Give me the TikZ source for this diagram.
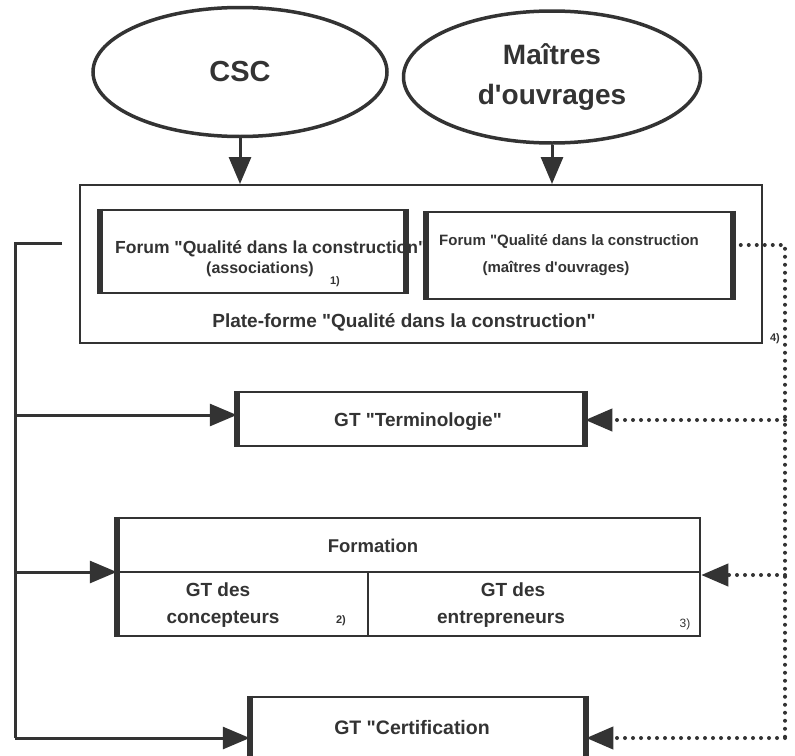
\documentclass[tikz,border=0pt]{standalone}
\usepackage{fontspec}
\setmainfont{Liberation Sans}
\usetikzlibrary{arrows.meta,shapes.geometric}
\definecolor{ink}{gray}{0.2}
\newcommand{\qdbl}{\textquotedbl}

\begin{document}
\begin{tikzpicture}
[x=1pt,y=-1pt,
  actordecorate/.style={shape=ellipse,draw=ink,line width=3.5pt,inner sep=0pt,text=ink},
  boxdecorate/.style={shape=rectangle,draw=ink,line width=2.5pt,inner sep=0pt},
  sidedecorate/.style={draw=ink,line width=6pt},
  textdecorate/.style={text=ink,inner sep=0pt,anchor=base},
  arrowdecorate/.style={draw=ink,fill=ink,line width=3pt,-{Triangle[length=27pt,width=22pt]}},
  dotdecorate/.style={draw=ink,line width=4pt,line cap=round,dash pattern=on 0pt off 8pt},
  dotarrowdecorate/.style={dotdecorate,-{Triangle[length=27pt,width=22pt,fill=ink]}}]
\useasboundingbox[fill=white] (0,0) rectangle (795,755);

%% actors
\node (csc) [actordecorate,minimum width=294pt,minimum height=129pt,
  font=\bfseries\fontsize{29}{29}\selectfont] at (240,72) {CSC};
\node (moa) [actordecorate,minimum width=297pt,minimum height=132pt,align=center,
  font=\bfseries\fontsize{28}{40}\selectfont] at (552,77)
  {Maîtres\\d\textquotesingle ouvrages};

%% platform and forums
\node (platform) [boxdecorate,line width=2pt,minimum width=682pt,minimum height=158pt] at (421,264) {};
\node (forum1) [boxdecorate,minimum width=304pt,minimum height=83pt] at (253,251.5) {};
\node (forum2) [boxdecorate,minimum width=304pt,minimum height=87pt] at (579.5,255.5) {};
\node (forum1a) [textdecorate,anchor=base west,font=\bfseries\fontsize{17.5}{17.5}\selectfont]
  at (115,253) {Forum \qdbl Qualité dans la construction\qdbl};
\node (forum1b) [textdecorate,font=\bfseries\fontsize{16}{16}\selectfont] at (260,273) {(associations)};
\node (forum1n) [textdecorate,font=\bfseries\fontsize{11}{11}\selectfont] at (335,284) {1)};
\node (forum2a) [textdecorate,font=\bfseries\fontsize{15}{15}\selectfont]
  at (569,245) {Forum \qdbl Qualité dans la construction};
\node (forum2b) [textdecorate,font=\bfseries\fontsize{15}{15}\selectfont]
  at (556,272) {(maîtres d\textquotesingle ouvrages)};
\node (platformtext) [textdecorate,font=\bfseries\fontsize{19}{19}\selectfont]
  at (404,327) {Plate-forme \qdbl Qualité dans la construction\qdbl};
\node (platformn) [textdecorate,font=\bfseries\fontsize{11}{11}\selectfont] at (775,341) {4)};

%% working groups
\node (termin) [boxdecorate,minimum width=346pt,minimum height=54pt] at (411,419) {};
\node (termintext) [textdecorate,font=\bfseries\fontsize{19}{19}\selectfont]
  at (418,426) {GT \qdbl Terminologie\qdbl};
\node (formation) [boxdecorate,minimum width=582pt,minimum height=118pt] at (409,577) {};
\draw[ink,line width=2.5pt] (formation.west |- 0,572) -- (formation.east |- 0,572);
\draw[ink,line width=2pt] (368,572) -- (formation.south -| 368,0);
\node (formtext) [textdecorate,font=\bfseries\fontsize{18.5}{18.5}\selectfont] at (373,552) {Formation};
\foreach \nodename/\x/\y/\txt in {concA/218/596/GT des, concB/223/623/concepteurs,
  entrA/513/596/GT des, entrB/501/623/entrepreneurs}
{
  \node (\nodename) [textdecorate,font=\bfseries\fontsize{19}{19}\selectfont] at (\x,\y) {\txt};
}
\node (concn) [textdecorate,font=\bfseries\fontsize{11}{11}\selectfont] at (341,623) {2)};
\node (entrn) [textdecorate,font=\fontsize{12}{12}\selectfont] at (685,627) {3)};
\node (certif) [boxdecorate,minimum width=334pt,minimum height=62pt] at (418,728) {};
\node (certiftext) [textdecorate,font=\bfseries\fontsize{19.5}{19.5}\selectfont]
  at (412,734) {GT \qdbl Certification};

%% thick sides of the boxes
\foreach \nodename/\side in {forum1/west, forum1/east, forum2/west, forum2/east,
  termin/west, termin/east, formation/west, certif/west, certif/east}
{
  \draw[sidedecorate] (\nodename.north \side) -- (\nodename.south \side);
}

%% inputs of the actors
\foreach \startnode in {csc, moa}
{
  \draw[arrowdecorate] (\startnode.south) -- (\startnode.south |- platform.north);
}

%% feedback on the left
\coordinate (trunkend) at (62,243);
\coordinate (trunktop) at (15,243);
\coordinate (trunkbottom) at (15,738);
\draw[ink,line width=3pt] (trunkend) -- (trunktop) -- (trunkbottom);
\foreach \endnode/\y in {termin/415, formation/572, certif/738}
{
  \draw[arrowdecorate] (trunktop |- 0,\y) -- (\endnode.west |- 0,\y);
}

%% dotted links on the right
\coordinate (dottop) at (785,245);
\coordinate (dotbottom) at (785,738);
\draw[dotdecorate] (forum2.east |- dottop) -- (dottop) -- (dotbottom);
\foreach \endnode/\y in {termin/420, formation/575, certif/738}
{
  \draw[dotarrowdecorate] (dottop |- 0,\y) -- (\endnode.east |- 0,\y);
}
\end{tikzpicture}
\end{document}
